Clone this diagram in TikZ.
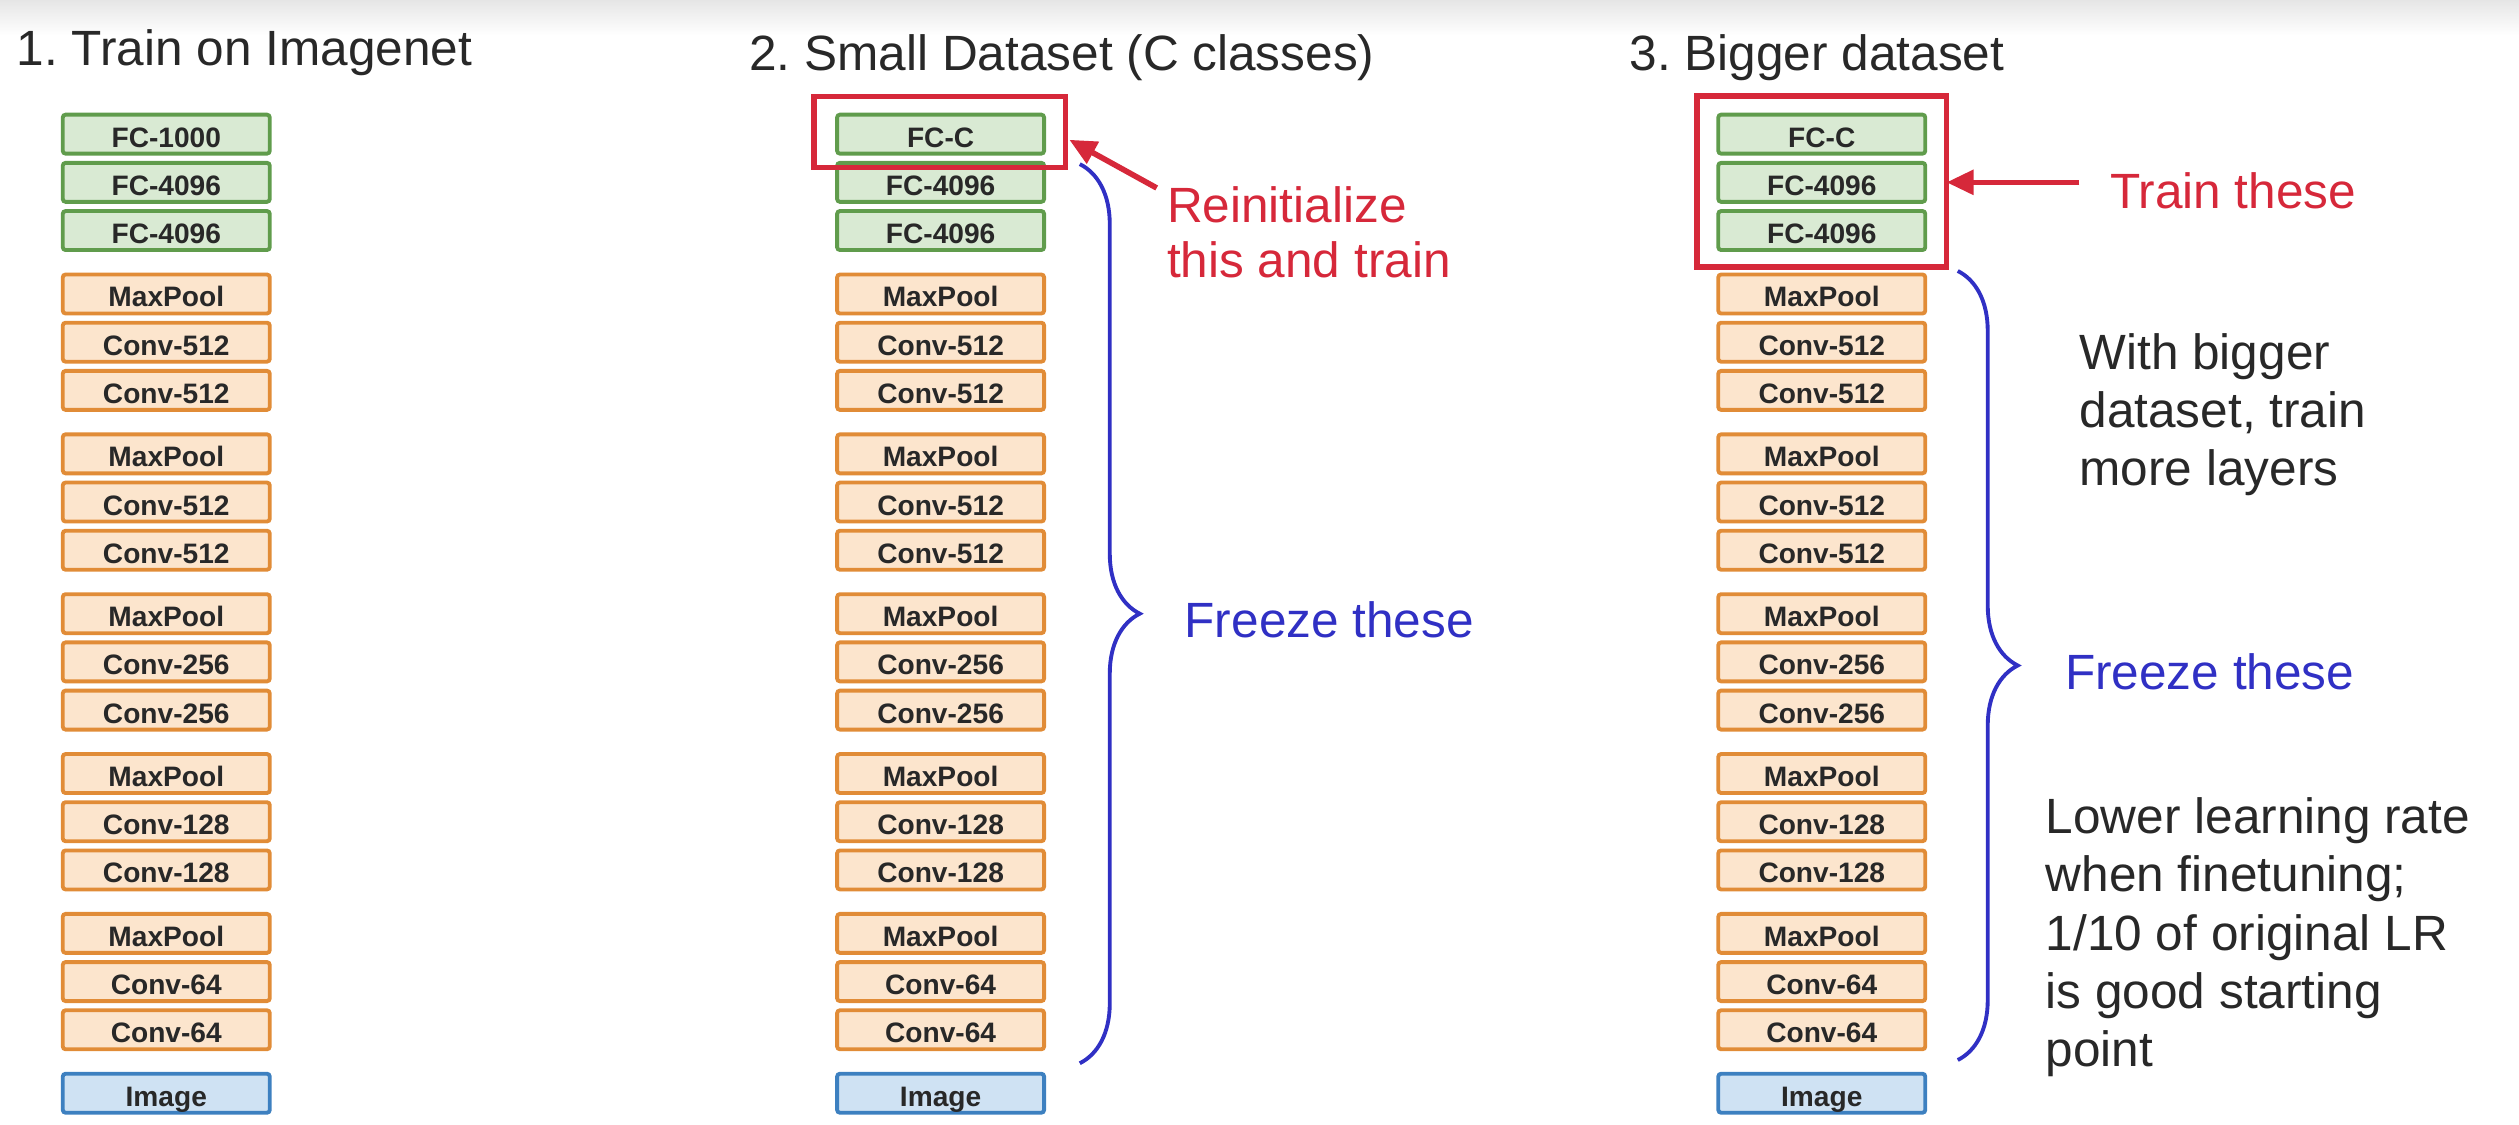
\documentclass[tikz,border=0pt]{standalone}
\usepackage{fontspec}
\setmainfont{Liberation Sans}
\usepackage{tikz}
\usetikzlibrary{arrows.meta, positioning, calc, decorations.pathreplacing}
\frenchspacing

\definecolor{fcfill}{RGB}{217,234,211}
\definecolor{fcdraw}{RGB}{96,156,76}
\definecolor{cvfill}{RGB}{252,229,205}
\definecolor{cvdraw}{RGB}{225,140,55}
\definecolor{imfill}{RGB}{207,226,243}
\definecolor{imdraw}{RGB}{61,128,192}
\definecolor{hired}{RGB}{214,40,58}
\definecolor{freezeblue}{RGB}{48,48,196}
\definecolor{txtgray}{RGB}{40,40,40}

\begin{document}
\begin{tikzpicture}[
        x=0.16066cm, y=0.16066cm,
        layer/.style={draw, line width=1.1pt, rounded corners=0.8pt, minimum width=2.07cm, minimum height=0.39cm, inner sep=0pt, text height=1.6ex, text depth=0.2ex, text=txtgray, font=\bfseries\fontsize{8}{8}\selectfont},
        fclayer/.style={layer, fill=fcfill, draw=fcdraw},
        convlayer/.style={layer, fill=cvfill, draw=cvdraw},
        imglayer/.style={layer, fill=imfill, draw=imdraw},
        title/.style={anchor=base west, inner sep=0pt, text=txtgray, font=\fontsize{14.1}{17}\selectfont},
        note/.style={anchor=north west, inner sep=0pt, align=left, font=\fontsize{14.1}{16.6}\selectfont},
        redbox/.style={draw=hired, line width=1.6pt},
        redarrow/.style={hired, line width=1.6pt, -{Triangle[length=0.27cm, width=0.24cm]}},
        freeze/.style={freezeblue, line width=1.1pt, decorate, decoration={brace, amplitude=0.6cm}}
    ]
    \useasboundingbox (0,0) rectangle (156.8,-70);
    \shade[top color=black!10, bottom color=white] (0,0) rectangle (156.8,-2.2);

    \node[title] (t1) at (1.0,-4.1) {1. Train on Imagenet};
    \node[title] (t2) at (46.6,-4.4) {2. Small Dataset (C classes)};
    \node[title] (t3) at (101.4,-4.4) {3. Bigger dataset};

    % the three VGG stacks
    \foreach \col/\cx/\toplab in {a/10.35/FC-1000, b/58.55/FC-C, c/113.4/FC-C}
      \foreach \lab/\sty [count=\i] in {\toplab/fclayer, FC-4096/fclayer, FC-4096/fclayer,
          MaxPool/convlayer, Conv-512/convlayer, Conv-512/convlayer,
          MaxPool/convlayer, Conv-512/convlayer, Conv-512/convlayer,
          MaxPool/convlayer, Conv-256/convlayer, Conv-256/convlayer,
          MaxPool/convlayer, Conv-128/convlayer, Conv-128/convlayer,
          MaxPool/convlayer, Conv-64/convlayer, Conv-64/convlayer, Image/imglayer}{
        \pgfmathsetmacro\yy{-(8.35+3*(\i-1)+0.95*int((\i-1)/3))}
        \node[\sty] (\col\i) at (\cx,\yy) {\lab};
      }

    % small dataset
    \draw[redbox] ($(b1.north west)+(-1.3,1.0)$) rectangle ($(b1.south east)+(1.2,-0.75)$);
    \node[note, text=hired, font=\fontsize{14.1}{15.5}\selectfont] (reinit) at (72.6,-11.6) {Reinitialize\\this and train};
    \coordinate (bhit) at ($(b1.east)+(1.45,-0.35)$);
    \draw[redarrow] ($(reinit.north west)+(-0.6,-0.1)$) -- (bhit);
    \coordinate (bTop) at ($(b2.north east)+(2.1,-0.2)$);
    \coordinate (bBot) at ($(b18.south east)+(2.1,-0.75)$);
    \draw[freeze] (bTop) -- (bBot);
    \node[note, anchor=west, text=freezeblue] (freezeB) at (73.7,-38.6) {Freeze these};

    % bigger dataset
    \draw[redbox] ($(c1.north west)+(-1.2,1.05)$) rectangle ($(c3.south east)+(1.2,-0.95)$);
    \node[note, anchor=west, text=hired] (train) at (131.3,-11.9) {Train these};
    \coordinate (chit) at ($(c2.east)+(1.2,0)$);
    \draw[redarrow, shorten <=0.3cm] (train.west |- chit) -- (chit);
    \coordinate (cTop) at ($(c4.north east)+(1.9,0.1)$);
    \coordinate (cBot) at ($(c18.south east)+(1.9,-0.55)$);
    \draw[freeze] (cTop) -- (cBot);
    \node[note, anchor=west, text=freezeblue] (freezeC) at (128.5,-41.8) {Freeze these};
    \node[note, text=txtgray] (bigger) at (129.4,-20.7) {With bigger\\dataset, train\\more layers};
    \node[note, text=txtgray] (lowerlr) at (127.3,-49.6) {Lower learning rate\\when finetuning;\\1/10 of original LR\\is good starting\\point};
\end{tikzpicture}
\end{document}
